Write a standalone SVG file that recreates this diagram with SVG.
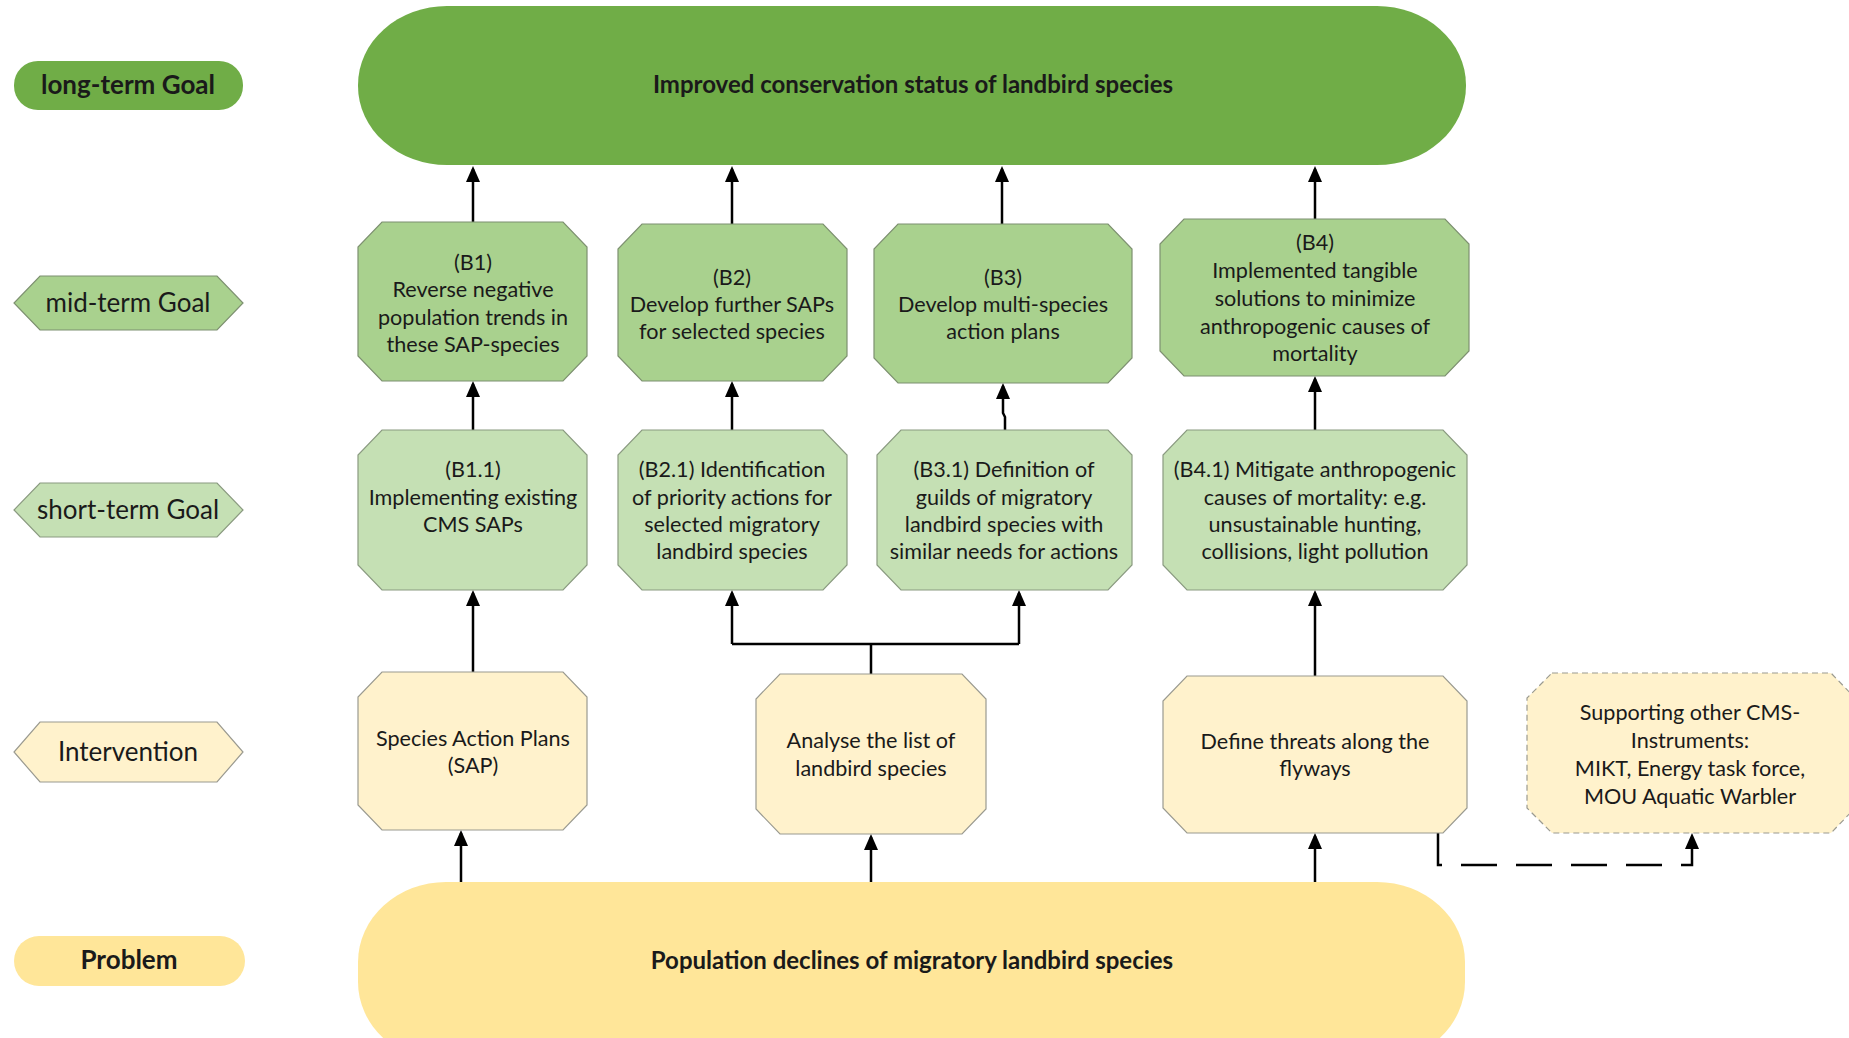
<svg xmlns="http://www.w3.org/2000/svg" width="1849" height="1038" viewBox="0 0 1849 1038">
<style>
text{font-family:Lato,"Liberation Sans",sans-serif;fill:#1a1a1a;text-anchor:middle}
.t{font-size:21.6px}
.lbl{font-size:26px}
.b{font-weight:bold}
.big{font-size:24px;font-weight:bold}
.dk{fill:#70AD47}
.mid{fill:#A9D18E;stroke:#7d9070;stroke-width:1.2}
.sht{fill:#C5E0B4;stroke:#8a9a80;stroke-width:1.2}
.int{fill:#FFF2CC;stroke:#9a9a90;stroke-width:1.2}
.prob{fill:#FFE699}
.con{fill:none;stroke:#000;stroke-width:2.5}
.arr{marker-end:url(#ah)}
.dash{stroke-dasharray:36 19}
</style>
<defs>
<marker id="ah" viewBox="0 0 16 14" refX="13" refY="7" markerWidth="16" markerHeight="14" markerUnits="userSpaceOnUse" orient="auto">
<path d="M0,0 L16,7 L0,14 z" fill="#000"/>
</marker>
</defs>

<g id="legend-long-term">
<rect class="dk" x="14" y="61" width="229" height="49" rx="24"/>
<text class="lbl b" x="128" y="94">long-term Goal</text>
</g>
<g id="legend-mid-term">
<polygon class="mid" points="40,276 217,276 243,303 217,330 40,330 14,303"/>
<text class="lbl" x="128" y="312">mid-term Goal</text>
</g>
<g id="legend-short-term">
<polygon class="sht" points="40,483 217,483 243,510 217,537 40,537 14,510"/>
<text class="lbl" x="128" y="519">short-term Goal</text>
</g>
<g id="legend-intervention">
<polygon class="int" points="40,722 217,722 243,752 217,782 40,782 14,752"/>
<text class="lbl" x="128" y="761">Intervention</text>
</g>
<g id="legend-problem">
<rect class="prob" x="14" y="936" width="231" height="50" rx="25"/>
<text class="lbl b" x="129" y="969">Problem</text>
</g>

<g id="connectors">
<line class="con arr" x1="473" y1="222" x2="473" y2="169"/>
<line class="con arr" x1="732" y1="224" x2="732" y2="169"/>
<line class="con arr" x1="1002" y1="224" x2="1002" y2="169"/>
<line class="con arr" x1="1315" y1="219" x2="1315" y2="169"/>
<line class="con arr" x1="473" y1="430" x2="473" y2="384"/>
<line class="con arr" x1="732" y1="430" x2="732" y2="384"/>
<path class="con arr" d="M1005,430 L1005,417 L1003,413 L1003,386"/>
<line class="con arr" x1="1315" y1="430" x2="1315" y2="379"/>
<line class="con arr" x1="473" y1="672" x2="473" y2="593"/>
<path class="con" d="M871,674 L871,644 M732,644 L1019,644"/>
<line class="con arr" x1="732" y1="644" x2="732" y2="593"/>
<line class="con arr" x1="1019" y1="644" x2="1019" y2="593"/>
<line class="con arr" x1="1315" y1="676" x2="1315" y2="593"/>
<line class="con arr" x1="461" y1="882" x2="461" y2="833"/>
<line class="con arr" x1="871" y1="882" x2="871" y2="837"/>
<line class="con arr" x1="1315" y1="882" x2="1315" y2="836"/>
<path class="con dash arr" d="M1438,833 L1438,865 L1692,865 L1692,836"/>
</g>

<g id="goal-long">
<rect class="dk" x="358" y="6" width="1108" height="159" rx="89" ry="79"/>
<text class="big" x="913" y="93">Improved conservation status of landbird species</text>
</g>

<g id="B1">
<polygon class="mid" points="382,222 563,222 587,247 587,356 563,381 382,381 358,356 358,247"/>
<text class="t" x="473" y="270">(B1)</text>
<text class="t" x="473" y="297">Reverse negative</text>
<text class="t" x="473" y="325">population trends in</text>
<text class="t" x="473" y="352">these SAP-species</text>
</g>
<g id="B2">
<polygon class="mid" points="642,224 823,224 847,249 847,356 823,381 642,381 618,356 618,249"/>
<text class="t" x="732" y="285">(B2)</text>
<text class="t" x="732" y="312">Develop further SAPs</text>
<text class="t" x="732" y="339">for selected species</text>
</g>
<g id="B3">
<polygon class="mid" points="898,224 1108,224 1132,249 1132,358 1108,383 898,383 874,358 874,249"/>
<text class="t" x="1003" y="285">(B3)</text>
<text class="t" x="1003" y="312">Develop multi-species</text>
<text class="t" x="1003" y="339">action plans</text>
</g>
<g id="B4">
<polygon class="mid" points="1184,219 1445,219 1469,244 1469,351 1445,376 1184,376 1160,351 1160,244"/>
<text class="t" x="1315" y="250">(B4)</text>
<text class="t" x="1315" y="278">Implemented tangible</text>
<text class="t" x="1315" y="306">solutions to minimize</text>
<text class="t" x="1315" y="334">anthropogenic causes of</text>
<text class="t" x="1315" y="361">mortality</text>
</g>

<g id="B1-1">
<polygon class="sht" points="382,430 563,430 587,455 587,565 563,590 382,590 358,565 358,455"/>
<text class="t" x="473" y="477">(B1.1)</text>
<text class="t" x="473" y="505">Implementing existing</text>
<text class="t" x="473" y="532">CMS SAPs</text>
</g>
<g id="B2-1">
<polygon class="sht" points="642,430 823,430 847,455 847,565 823,590 642,590 618,565 618,455"/>
<text class="t" x="732" y="477">(B2.1) Identification</text>
<text class="t" x="732" y="505">of priority actions for</text>
<text class="t" x="732" y="532">selected migratory</text>
<text class="t" x="732" y="559">landbird species</text>
</g>
<g id="B3-1">
<polygon class="sht" points="901,430 1108,430 1132,455 1132,565 1108,590 901,590 877,565 877,455"/>
<text class="t" x="1004" y="477">(B3.1) Definition of</text>
<text class="t" x="1004" y="505">guilds of migratory</text>
<text class="t" x="1004" y="532">landbird species with</text>
<text class="t" x="1004" y="559">similar needs for actions</text>
</g>
<g id="B4-1">
<polygon class="sht" points="1187,430 1443,430 1467,455 1467,565 1443,590 1187,590 1163,565 1163,455"/>
<text class="t" x="1315" y="477">(B4.1) Mitigate anthropogenic</text>
<text class="t" x="1315" y="505">causes of mortality: e.g.</text>
<text class="t" x="1315" y="532">unsustainable hunting,</text>
<text class="t" x="1315" y="559">collisions, light pollution</text>
</g>

<g id="SAP">
<polygon class="int" points="382,672 563,672 587,697 587,805 563,830 382,830 358,805 358,697"/>
<text class="t" x="473" y="746">Species Action Plans</text>
<text class="t" x="473" y="773">(SAP)</text>
</g>
<g id="analyse">
<polygon class="int" points="780,674 962,674 986,699 986,809 962,834 780,834 756,809 756,699"/>
<text class="t" x="871" y="748">Analyse the list of</text>
<text class="t" x="871" y="776">landbird species</text>
</g>
<g id="define-threats">
<polygon class="int" points="1187,676 1443,676 1467,701 1467,808 1443,833 1187,833 1163,808 1163,701"/>
<text class="t" x="1315" y="749">Define threats along the</text>
<text class="t" x="1315" y="776">flyways</text>
</g>
<g id="supporting">
<polygon class="int" style="stroke-dasharray:6 4" points="1552,673 1831,673 1855,698 1855,808 1831,833 1552,833 1527,808 1527,698"/>
<text class="t" x="1690" y="720">Supporting other CMS-</text>
<text class="t" x="1690" y="748">Instruments:</text>
<text class="t" x="1690" y="776">MIKT, Energy task force,</text>
<text class="t" x="1690" y="804">MOU Aquatic Warbler</text>
</g>

<g id="problem">
<rect class="prob" x="358" y="882" width="1107" height="180" rx="88" ry="80"/>
<text class="big" x="912" y="969">Population declines of migratory landbird species</text>
</g>
</svg>
